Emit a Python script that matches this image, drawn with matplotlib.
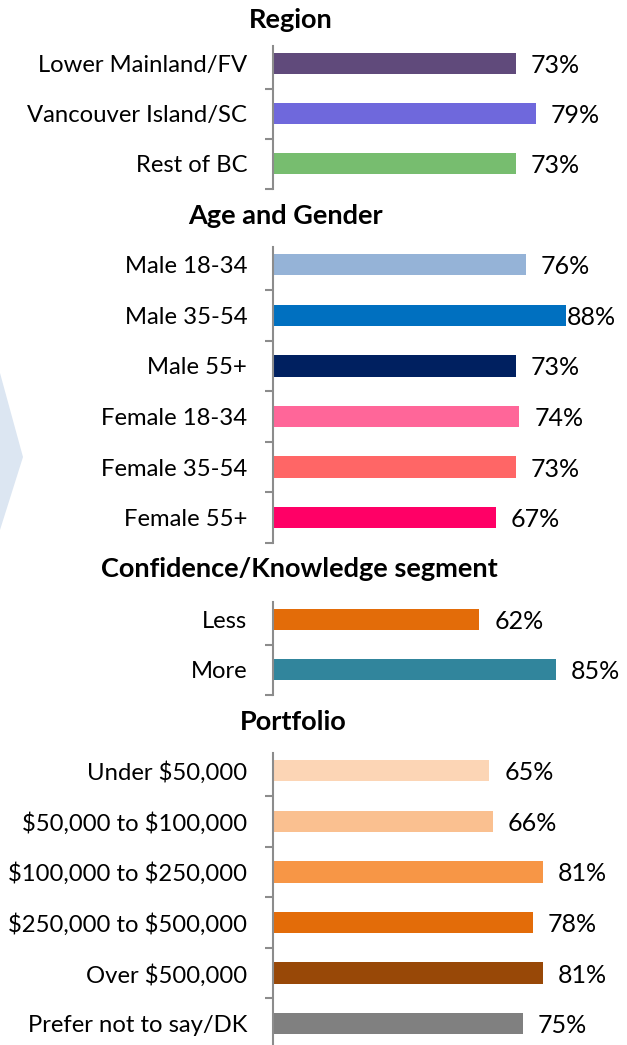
import matplotlib
matplotlib.use("Agg")
import matplotlib.pyplot as plt
from matplotlib.patches import Polygon

plt.rcParams['font.family'] = ['Lato', 'DejaVu Sans']
plt.rcParams['text.parse_math'] = False

# data
region_labels = ['Lower Mainland/FV', 'Vancouver Island/SC', 'Rest of BC']
region_values = [73, 79, 73]
region_colors = ['#604a7b', '#6f68dc', '#77bd6f']

age_labels = ['Male 18-34', 'Male 35-54', 'Male 55+', 'Female 18-34', 'Female 35-54', 'Female 55+']
age_values = [76, 88, 73, 74, 73, 67]
age_colors = ['#95b3d7', '#0070c0', '#002060', '#ff6699', '#ff6666', '#ff0066']

conf_labels = ['Less', 'More']
conf_values = [62, 85]
conf_colors = ['#e36c09', '#31859c']

port_labels = ['Under $50,000', '$50,000 to $100,000', '$100,000 to $250,000',
               '$250,000 to $500,000', 'Over $500,000', 'Prefer not to say/DK']
port_values = [65, 66, 81, 78, 81, 75]
port_colors = ['#fcd5b5', '#fac090', '#f79646', '#e36c09', '#984807', '#808080']

W, H = 627, 1045
fig = plt.figure(figsize=(W / 100, H / 100), dpi=100)

# light blue chevron tip on the left edge
fig.patches.append(Polygon([(0, 1 - 373 / H), (23 / W, 1 - 457 / H), (0, 1 - 530 / H)],
                           closed=True, transform=fig.transFigure, facecolor='#dce6f2',
                           edgecolor='none', zorder=0))

# title, labels, values, colours, title x/y, axis top (px), row step (px)
panels = [
    ('Region', region_labels, region_values, region_colors, 291, 20, 46, 50),
    ('Age and Gender', age_labels, age_values, age_colors, 285, 216, 247, 50.6),
    ('Confidence/Knowledge segment', conf_labels, conf_values, conf_colors, 299, 569, 602, 50),
    ('Portfolio', port_labels, port_values, port_colors, 293, 722, 753, 50.6),
]

x0 = 273
for title, labels, values, colors, tx, ty, top, step in panels:
    n = len(labels)
    h = (n - 0.15) * step
    ax = fig.add_axes([x0 / W, 1 - (top + h) / H, (W - x0) / W, h / H])
    ax.barh(range(n), values, height=0.42, color=colors)
    ax.set_ylim(n - 0.5, -0.35)
    ax.set_xlim(0, (W - x0) / 3.33)
    for s in ['top', 'right', 'bottom']:
        ax.spines[s].set_visible(False)
    ax.spines['left'].set_color('#8c8c8c')
    ax.spines['left'].set_linewidth(1.5)
    ax.set_xticks([])
    ax.set_yticks(range(n))
    ax.set_yticklabels(labels, fontsize=17.2)
    ax.tick_params(axis='y', which='major', length=0, pad=18.5)
    ax.set_yticks([i + 0.5 for i in range(n)], minor=True)
    ax.tick_params(axis='y', which='minor', length=6, width=1.5, color='#8c8c8c')
    for i, v in enumerate(values):
        pad = 0.3 if v >= 88 else 4.5
        ax.text(v + pad, i + 0.04, f'{v}%', va='center', ha='left', fontsize=18)
    fig.text(tx / W, 1 - ty / H, title, ha='center', va='center', fontsize=19.5, fontweight='bold')

fig.savefig('out.png', dpi=100)
